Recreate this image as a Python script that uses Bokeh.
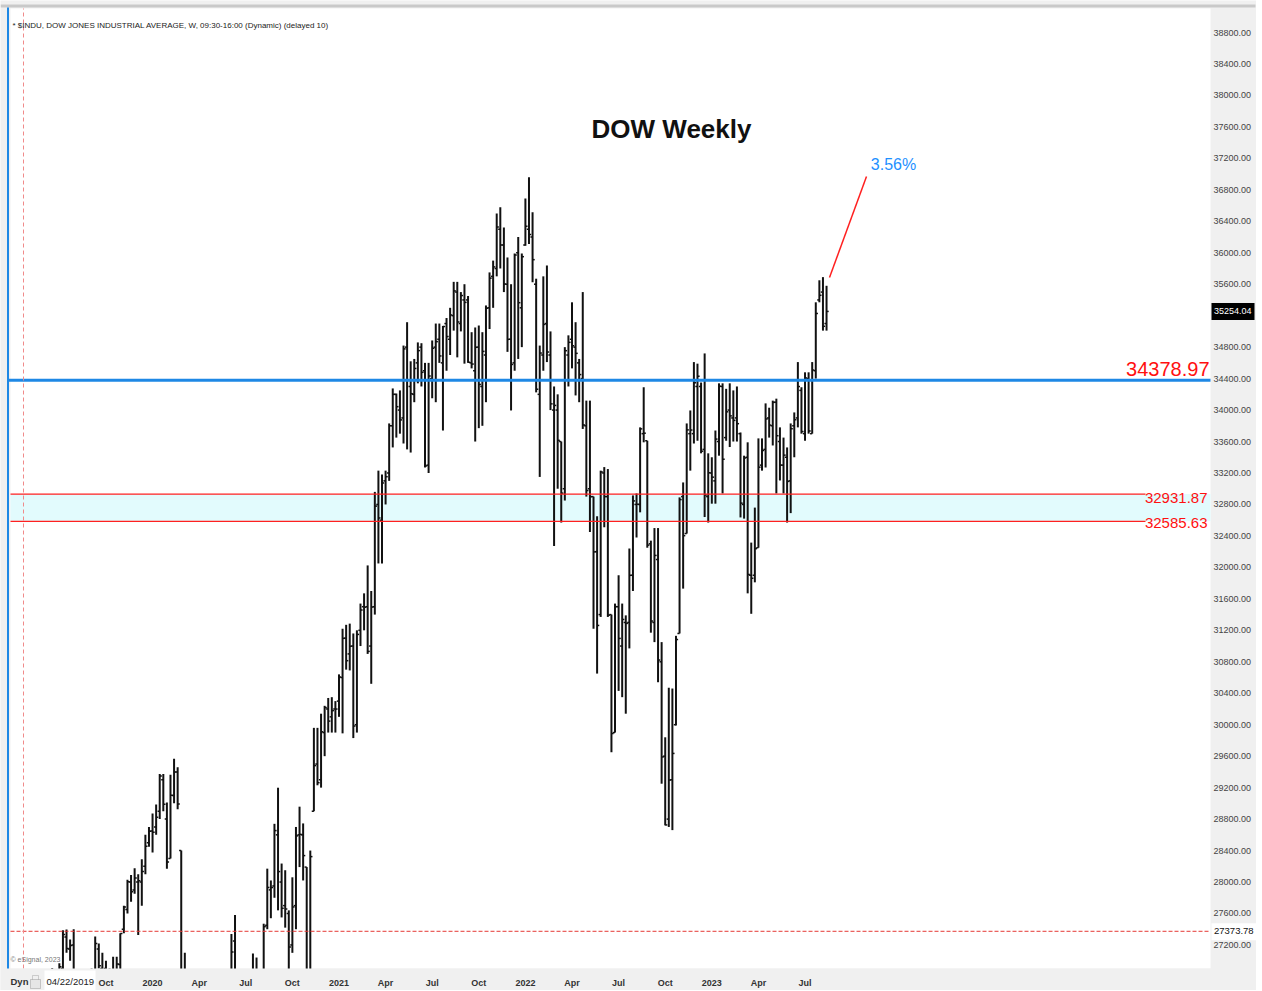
import pandas as pd
from bokeh.plotting import figure
from bokeh.models import (Label, LabelSet, BoxAnnotation, ColumnDataSource, Range1d)
from bokeh.core.properties import value
from bokeh.embed import file_html
from bokeh.resources import INLINE

# ---------------- data (weekly OHLC, DJIA) ----------------
start_week = "2019-04-22"

opens = [
    26559, 26555, 26300, 25900, 25700, 25500, 24830, 25990, 26100, 26700,
    26800, 26900, 27300, 27150, 27200, 26300, 26200, 25900, 25650, 26350,
    26800, 27150, 26900, 26900, 26500, 26800, 26800, 26950, 27400, 27650,
    28000, 27900, 28000, 28000, 28200, 28500, 28650, 28700, 28900, 29300,
    28800, 28300, 29100, 29400, 28402, 25590, 25700, 22800, 19000, 21200,
    21200, 23600, 24000, 23800, 23700, 24200, 23800, 24700, 25475, 27250,
    25300, 25900, 25100, 25900, 26100, 26700, 26500, 26400, 27450, 27900,
    27950, 28600, 28000, 27700, 27600, 27200, 27700, 28600, 28600, 28190,
    26600, 28900, 29500, 29300, 29900, 30200, 30100, 30200, 30300, 30600,
    31100, 30900, 31000, 30000, 31200, 31500, 31500, 31000, 31500, 32800,
    32600, 33100, 33200, 33800, 34200, 34000, 33900, 34800, 34300, 34200,
    34600, 34800, 34500, 33300, 34400, 34800, 34900, 34600, 35100, 34900,
    35200, 35500, 35100, 35400, 35400, 34600, 34500, 34800, 34300, 34700,
    35300, 35700, 35800, 36300, 36100, 35600, 34900, 34600, 36000, 35300,
    36100, 36300, 36200, 35600, 34200, 34700, 35100, 34700, 34000, 34000,
    33600, 33000, 34700, 34900, 34800, 34600, 34400, 33800, 33000, 32900,
    32200, 31400, 33200, 32900, 31400, 29900, 31500, 31000, 31300, 31300,
    31900, 32800, 32800, 33700, 33610, 32300, 31300, 32100, 30800, 29600,
    28800, 29300, 30000, 31160, 32900, 32430, 33700, 33700, 34300, 34300,
    33500, 32900, 33200, 33100, 33600, 34300, 33650, 34000, 33900, 33900,
    33700, 32800, 33400, 31900, 31900, 32250, 33300, 33500, 33900, 33800,
    34100, 33600, 33300, 33400, 33100, 33800, 33900, 34250, 33700, 34400,
    33700, 34500, 35400, 35500, 35100,
]
highs = [
    26696, 26660, 26350, 26000, 25880, 25600, 25990, 26180, 26908, 26800,
    26966, 27388, 27398, 27270, 27399, 26400, 26500, 26260, 26450, 26900,
    27306, 27220, 27100, 27000, 26900, 27050, 27050, 27350, 27700, 28030,
    28090, 28175, 28100, 28290, 28600, 28700, 28872, 28985, 29373, 29374,
    29010, 29363, 29568, 29459, 28402, 27102, 25900, 22900, 22600, 21500,
    24000, 24300, 24100, 24764, 24300, 24400, 24800, 25758, 27338, 27580,
    26600, 26200, 26000, 26300, 27090, 27040, 26700, 27470, 28170, 28020,
    28740, 29199, 28235, 28150, 27640, 28060, 28700, 28958, 28745, 28190,
    28400, 29960, 29960, 30140, 30240, 30340, 30350, 30300, 30640, 31220,
    31270, 31285, 31160, 31200, 31540, 31670, 32025, 31700, 32960, 33230,
    33180, 33230, 33830, 34275, 34210, 34250, 34820, 35117, 34620, 34650,
    34860, 34850, 34600, 34600, 34885, 35100, 35100, 35070, 35170, 35300,
    35630, 35630, 35500, 35600, 35450, 34990, 35050, 35075, 34990, 35330,
    35750, 35900, 36500, 36580, 36320, 35940, 35600, 35990, 36200, 35990,
    36690, 36960, 36515, 35670, 34820, 35700, 35838, 35000, 34300, 34200,
    33600, 34800, 34950, 35370, 35117, 34650, 35500, 34120, 34120, 32900,
    32650, 33230, 33275, 33250, 31400, 31540, 31900, 31540, 31390, 32240,
    32915, 32940, 33780, 34290, 33610, 32340, 32500, 32500, 31050, 29840,
    30470, 30460, 31130, 32890, 33080, 33830, 33995, 34610, 34590, 34350,
    34720, 33450, 33400, 33740, 34340, 34340, 34270, 34340, 34250, 34300,
    33715, 33420, 33590, 32315, 32760, 33640, 33640, 34085, 34030, 34120,
    34145, 33780, 33650, 33525, 33830, 33970, 34610, 34290, 34480, 34480,
    34610, 35370, 35650, 35690, 35580,
]
lows = [
    26390, 26306, 25667, 25222, 25328, 24800, 24680, 25900, 26050, 26500,
    26700, 26800, 27100, 27000, 26249, 25440, 25340, 25600, 25600, 26150,
    26750, 26900, 26700, 26000, 26000, 26700, 26700, 26800, 27350, 27600,
    27750, 27850, 27325, 27700, 28100, 28450, 28376, 28600, 28800, 28900,
    28169, 28300, 29000, 28925, 24681, 25391, 21154, 19122, 18214, 20735,
    21100, 22900, 23100, 23200, 23300, 22790, 23700, 24600, 25400, 25200,
    25000, 24900, 24850, 25500, 25900, 26400, 25900, 26300, 27400, 27540,
    27800, 27640, 27550, 27420, 26537, 27100, 27400, 28190, 28020, 26143,
    26500, 28900, 29230, 29200, 29600, 29900, 29900, 29900, 30100, 29890,
    30700, 30690, 29830, 29900, 31000, 31200, 30900, 30520, 31400, 32050,
    32050, 32800, 33100, 33525, 33650, 33700, 33575, 33500, 33460, 34100,
    34340, 34300, 33270, 33200, 34150, 34100, 34600, 33740, 34500, 34700,
    35010, 34670, 35000, 34590, 34600, 34530, 33600, 33770, 33800, 34100,
    35030, 35300, 35700, 35800, 35500, 34740, 33995, 34500, 34650, 34800,
    36090, 36110, 35625, 34225, 33150, 34500, 34610, 34000, 32272, 33000,
    32570, 32850, 34300, 34530, 34186, 34100, 33760, 32900, 32450, 31220,
    30650, 31370, 32510, 31370, 29650, 29900, 30430, 30350, 30140, 30970,
    31700, 32380, 32700, 33590, 32250, 31170, 31050, 30540, 29250, 28720,
    28700, 28660, 29990, 31160, 31730, 32430, 33230, 33575, 33610, 33450,
    32640, 32570, 32810, 32810, 33420, 32940, 33610, 33530, 33600, 33600,
    32635, 32620, 31670, 31410, 31810, 32250, 33230, 33270, 33650, 33550,
    32940, 33105, 32940, 32570, 32690, 33400, 33780, 33700, 33610, 33700,
    33700, 34400, 35370, 35010, 35010,
]
closes = [
    26543, 26505, 25942, 25764, 25586, 24815, 25984, 26090, 26719, 26600,
    26922, 27332, 27154, 27192, 26485, 26287, 25886, 25628, 26403, 26797,
    27220, 26935, 26820, 26573, 26816, 26770, 26958, 27347, 27681, 28004,
    27875, 28051, 28015, 28135, 28455, 28645, 28634, 28824, 29348, 28990,
    28256, 29102, 29398, 28992, 25409, 25865, 23186, 19174, 21637, 21053,
    23719, 24242, 23775, 23724, 24331, 23685, 24465, 25383, 27111, 25606,
    25871, 25016, 25827, 26075, 26672, 26470, 26428, 27433, 27931, 27930,
    28654, 28133, 27666, 27657, 27174, 27683, 28587, 28606, 28336, 26502,
    28323, 29480, 29263, 29910, 30218, 30046, 30179, 30199, 30606, 31098,
    30814, 30997, 29983, 31148, 31458, 31494, 30932, 31496, 32779, 32628,
    33073, 33153, 33801, 34200, 34043, 33875, 34778, 34382, 34208, 34529,
    34756, 34480, 33290, 34433, 34786, 34870, 34688, 35062, 34935, 35209,
    35515, 35120, 35456, 35369, 34608, 34585, 34798, 34326, 34746, 35295,
    35677, 35820, 36328, 36100, 35602, 34899, 34580, 35971, 35365, 35950,
    36338, 36232, 35912, 34265, 34725, 35089, 34738, 34079, 34059, 33615,
    32944, 34755, 34861, 34818, 34721, 34451, 33811, 32977, 32899, 32197,
    31262, 33213, 32900, 31393, 29888, 31501, 31097, 31338, 31288, 31899,
    32845, 32803, 33761, 33706, 32283, 31318, 32152, 30822, 29590, 28726,
    29297, 29635, 31083, 32862, 32403, 33748, 33746, 34347, 34430, 33477,
    32920, 33203, 33147, 33631, 34303, 33375, 33978, 33926, 33869, 33827,
    32817, 33391, 31910, 31862, 32238, 33274, 33486, 33887, 33809, 34098,
    33674, 33300, 33427, 33093, 33763, 33877, 34299, 33727, 34408, 33734,
    34509, 35228, 35459, 35065, 35254,
]

level_blue = 34378.97
level_band_top = 32931.87
level_band_bottom = 32585.63
cursor_price = 27373.78
last_price = 35254.04
move_label = "3.56%"

tick_dates = ["2019-10-01", "2020-01-01", "2020-04-01", "2020-07-01", "2020-10-01",
              "2021-01-01", "2021-04-01", "2021-07-01", "2021-10-01", "2022-01-01",
              "2022-04-01", "2022-07-01", "2022-10-01", "2023-01-01", "2023-04-01",
              "2023-07-01"]
tick_labels = ["Oct", "2020", "Apr", "Jul", "Oct", "2021", "Apr", "Jul", "Oct", "2022",
               "Apr", "Jul", "Oct", "2023", "Apr", "Jul"]
y_ticks = list(range(27200, 38801, 400))

# ---------------- layout helpers (page pixel -> data, for annotation placement) ----------------
W, H = 1256, 990
PX_X0, PX_PER_WEEK = 23.0, 3.585
PX_Y0, PX_PER_PT = 32.0, 0.07866
PLOT_L, PLOT_R, PLOT_T, PLOT_B = 10, 1210, 8, 968


def xp(px):
    return (px - PX_X0) / PX_PER_WEEK


def yp(py):
    return 38800 - (py - PX_Y0) / PX_PER_PT


def ypix(v):
    return PX_Y0 + (38800 - v) * PX_PER_PT


FONT = "Liberation Sans"

n = len(closes)
x = list(range(n))
src = ColumnDataSource(dict(
    x=x, xl=[i - 0.6 for i in x], xr=[i + 0.6 for i in x],
    o=opens, h=highs, l=lows, c=closes))

start = pd.Timestamp(start_week)
tick_idx = [(pd.Timestamp(d) - start).days // 7 for d in tick_dates]

p = figure(width=W, height=H, output_backend="svg", toolbar_location=None,
           x_range=Range1d(xp(0), xp(W)), y_range=Range1d(yp(H), yp(0)),
           x_axis_type=None, y_axis_type=None,
           min_border=0, min_border_left=0, min_border_right=0,
           min_border_top=0, min_border_bottom=0,
           background_fill_color="#f0f0f0", border_fill_color="#f0f0f0",
           outline_line_color=None)
p.grid.visible = False

xl, xr = xp(PLOT_L), xp(PLOT_R)
yb, yt = yp(PLOT_B), yp(PLOT_T)

# white plotting area + top strip line
p.add_layout(BoxAnnotation(left=xl, right=xr, bottom=yb, top=yt, fill_color="white",
                           fill_alpha=1.0, line_color=None, level="underlay"))
p.add_layout(BoxAnnotation(left=xp(0), right=xp(1255), bottom=yp(7), top=yp(4),
                           fill_color="#c9c9c9", fill_alpha=1.0, line_color=None,
                           level="underlay"))
# support band
p.add_layout(BoxAnnotation(left=xl, right=xr, bottom=level_band_bottom, top=level_band_top,
                           fill_color="#E2FBFD", fill_alpha=1.0, line_color=None,
                           level="underlay"))

# OHLC bars
p.segment(x0="x", y0="l", x1="x", y1="h", source=src, line_color="#111111", line_width=2)
p.segment(x0="xl", y0="o", x1="x", y1="o", source=src, line_color="#111111", line_width=1.5)
p.segment(x0="x", y0="c", x1="xr", y1="c", source=src, line_color="#111111", line_width=1.5)

# levels
p.segment(x0=[xp(8)], y0=[level_blue], x1=[xr], y1=[level_blue],
          line_color="#1E88E5", line_width=3)
line_end = xp(1145)
p.segment(x0=[xl, xl], y0=[level_band_top, level_band_bottom],
          x1=[line_end, line_end], y1=[level_band_top, level_band_bottom],
          line_color="#FF2020", line_width=1.3)

# cursor crosshair
p.segment(x0=[xl], y0=[cursor_price], x1=[xr], y1=[cursor_price],
          line_color="#E53935", line_width=1, line_dash="4 2")
p.segment(x0=[0], y0=[yb], x1=[0], y1=[yt],
          line_color="#F08A8A", line_width=1, line_dash="4 3")
# left blue window edge
p.segment(x0=[xp(7.5)], y0=[yp(H)], x1=[xp(7.5)], y1=[yp(7)],
          line_color="#1E88E5", line_width=2)

# move line towards the percentage label
p.segment(x0=[xp(829)], y0=[yp(277)], x1=[xp(866)], y1=[yp(176)],
          line_color="#FF2020", line_width=1.5)

# right price scale labels
p.text(x=[xp(1213)] * len(y_ticks), y=y_ticks, text=[f"{v:.2f}" for v in y_ticks],
       text_font=value(FONT), text_font_size="9px", text_color="#444444",
       text_align="left", text_baseline="middle")

# bottom panel (covers bars that run below the scale)
p.add_layout(BoxAnnotation(left=xp(0), right=xp(W), bottom=yp(H + 5), top=yb,
                           fill_color="#f0f0f0", fill_alpha=1.0, line_color=None))

# date scale labels
tsrc = ColumnDataSource(dict(x=tick_idx, y=[yp(982)] * len(tick_idx), t=tick_labels))
p.add_layout(LabelSet(x="x", y="y", text="t", source=tsrc, text_font=value(FONT),
                      text_font_style="bold", text_font_size="9px", text_color="#333333",
                      text_align="center", text_baseline="middle"))

# texts
p.add_layout(Label(x=xp(12), y=yp(25),
                   text="* $INDU, DOW JONES INDUSTRIAL AVERAGE, W, 09:30-16:00 (Dynamic) (delayed 10)",
                   text_font=FONT, text_font_size="8px", text_color="#222222",
                   text_baseline="middle"))
p.add_layout(Label(x=xp(671), y=yp(128), text="DOW Weekly", text_font=FONT,
                   text_font_style="bold", text_font_size="26px", text_color="#111111",
                   text_align="center", text_baseline="middle"))
p.add_layout(Label(x=xp(893), y=yp(164), text=move_label, text_font=FONT,
                   text_font_size="16px", text_color="#1E90FF",
                   text_align="center", text_baseline="middle"))
p.add_layout(Label(x=xp(1209), y=level_blue, y_offset=11, text=f"{level_blue:.2f}",
                   text_font=FONT, text_font_size="20px", text_color="#FF1010",
                   text_align="right", text_baseline="middle"))
p.add_layout(Label(x=xp(1207), y=level_band_top, y_offset=-4, text=f"{level_band_top:.2f}",
                   text_font=FONT, text_font_size="15px", text_color="#FF1010",
                   text_align="right", text_baseline="middle"))
p.add_layout(Label(x=xp(1207), y=level_band_bottom, y_offset=-2, text=f"{level_band_bottom:.2f}",
                   text_font=FONT, text_font_size="15px", text_color="#FF1010",
                   text_align="right", text_baseline="middle"))

# boxed prices on the scale
lp = ypix(last_price)
p.add_layout(BoxAnnotation(left=xp(1211), right=xp(1254), bottom=yp(lp + 8.5), top=yp(lp - 8.5),
                           fill_color="black", fill_alpha=1.0, line_color=None))
p.add_layout(Label(x=xp(1213.5), y=last_price, text=f"{last_price:.2f}", text_font=FONT,
                   text_font_size="9px", text_color="white", text_baseline="middle"))
cp = ypix(cursor_price)
p.add_layout(BoxAnnotation(left=xp(1211), right=xp(1256), bottom=yp(cp + 9), top=yp(cp - 8),
                           fill_color="white", fill_alpha=1.0, line_color=None))
p.add_layout(Label(x=xp(1213.5), y=cursor_price, text=f"{cursor_price:.2f}", text_font=FONT,
                   text_font_size="9.5px", text_color="#111111", text_baseline="middle"))

# bottom-left widgets
p.add_layout(Label(x=xp(10), y=yp(959), text="\u00a9 eSignal, 2023", text_font=FONT,
                   text_font_size="7px", text_color="#777777", text_baseline="middle"))
p.add_layout(Label(x=xp(10), y=yp(981), text="Dyn", text_font=FONT, text_font_style="bold",
                   text_font_size="9.5px", text_color="#333333", text_baseline="middle"))
p.add_layout(BoxAnnotation(left=xp(32), right=xp(38), bottom=yp(981), top=yp(975),
                           fill_color="#f0f0f0", fill_alpha=1.0, line_color="#777777",
                           line_width=1))
p.add_layout(BoxAnnotation(left=xp(30), right=xp(40), bottom=yp(988), top=yp(979),
                           fill_color="#e6e6e6", fill_alpha=1.0, line_color="#666666",
                           line_width=1))
p.add_layout(BoxAnnotation(left=xp(44), right=xp(95), bottom=yp(991), top=yp(970),
                           fill_color="white", fill_alpha=1.0, line_color=None))
p.add_layout(Label(x=xp(46), y=yp(981), text=start.strftime("%m/%d/%Y"), text_font=FONT,
                   text_font_size="9.5px", text_color="#222222", text_baseline="middle"))

open("out.html", "w").write(file_html(p, INLINE))
